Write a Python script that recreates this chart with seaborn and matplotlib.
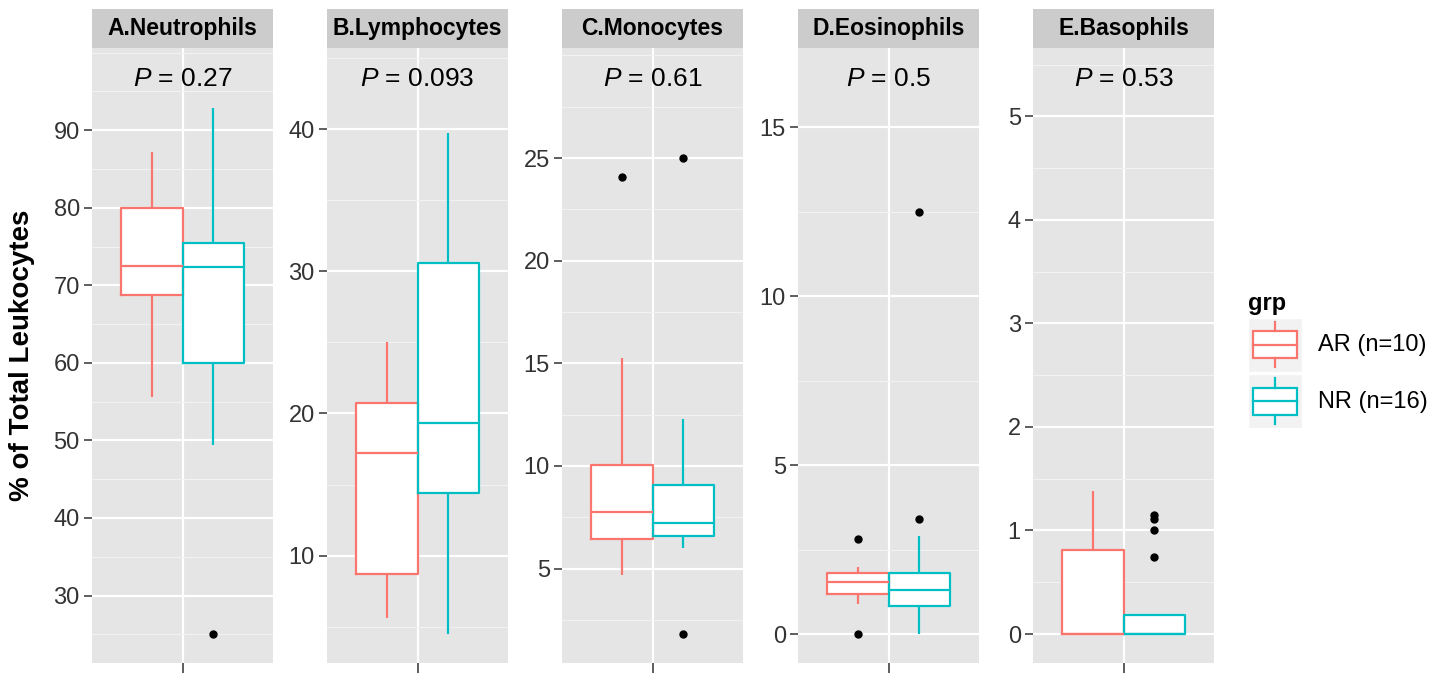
#!/usr/bin/env python3
"""
白细胞分类百分比箱线图（AR vs NR），ggplot 风格分面
"""

import numpy as np
import pandas as pd
import matplotlib
matplotlib.use("Agg")
import matplotlib.pyplot as plt
import seaborn as sns
from matplotlib.patches import Rectangle, Patch
from matplotlib.lines import Line2D
from matplotlib.legend_handler import HandlerBase

# ---- 数据 ----
cells = ["A.Neutrophils", "B.Lymphocytes", "C.Monocytes", "D.Eosinophils", "E.Basophils"]
groups = ["AR (n=10)", "NR (n=16)"]
p_values = ["0.27", "0.093", "0.61", "0.5", "0.53"]

neut_ar = [55.6, 64.0, 68.8, 68.8, 72.5, 72.5, 80.0, 80.0, 83.5, 87.2]
neut_nr = [25.1, 49.4, 55.0, 60.0, 60.0, 64.0, 69.0, 72.3, 72.3, 73.5, 74.5, 75.4, 75.4, 80.0, 86.0, 92.8]
lymph_ar = [5.6, 7.0, 8.7, 8.7, 17.2, 17.2, 20.7, 20.7, 22.5, 25.0]
lymph_nr = [4.5, 8.0, 12.0, 14.4, 14.4, 16.0, 18.0, 19.3, 19.3, 22.0, 27.0, 30.6, 30.6, 33.0, 36.0, 39.7]
mono_ar = [4.69, 5.5, 6.44, 6.44, 7.76, 7.76, 10.06, 10.06, 15.25, 24.1]
mono_nr = [1.82, 6.0, 6.3, 6.57, 6.57, 6.8, 7.0, 7.24, 7.24, 7.6, 8.4, 9.08, 9.08, 10.5, 12.28, 25.0]
eos_ar = [0.0, 0.91, 1.19, 1.19, 1.55, 1.55, 1.82, 1.82, 1.98, 2.82]
eos_nr = [0.0, 0.4, 0.7, 0.83, 0.83, 1.0, 1.2, 1.30, 1.30, 1.5, 1.7, 1.82, 1.82, 2.91, 3.41, 12.49]
baso_ar = [0.0, 0.0, 0.0, 0.0, 0.0, 0.0, 0.81, 0.81, 1.1, 1.38]
baso_nr = [0.0, 0.0, 0.0, 0.0, 0.0, 0.0, 0.0, 0.0, 0.0, 0.0, 0.0, 0.0, 0.74, 1.0, 1.11, 1.15]

values_ar = [neut_ar, lymph_ar, mono_ar, eos_ar, baso_ar]
values_nr = [neut_nr, lymph_nr, mono_nr, eos_nr, baso_nr]

# 每个分面的 y 轴范围与刻度间隔
ylims = [(21.3, 100.6), (2.45, 45.7), (0.4, 30.36), (-0.85, 17.35), (-0.28, 5.66)]
ysteps = [10, 10, 5, 5, 1]

colors = ["#F8766D", "#00BFC4"]
PANEL_BG = "#E5E5E5"
STRIP_BG = "#CCCCCC"
KEY_BG = "#F2F2F2"
TXT = "#333333"

# 长表
rows = []
for cell, ar, nr in zip(cells, values_ar, values_nr):
    rows += [(cell, groups[0], v) for v in ar]
    rows += [(cell, groups[1], v) for v in nr]
df = pd.DataFrame(rows, columns=["cell", "grp", "value"])

plt.rcParams["font.family"] = ["Liberation Sans", "DejaVu Sans"]
plt.rcParams["mathtext.fontset"] = "custom"
plt.rcParams["mathtext.it"] = "Liberation Sans:italic"
plt.rcParams["mathtext.rm"] = "Liberation Sans"


class BoxKey(HandlerBase):
    """ggplot 风格的箱线图图例键"""

    def create_artists(self, legend, orig_handle, xdescent, ydescent,
                       width, height, fontsize, trans):
        c = orig_handle.get_edgecolor()
        x0, y0 = -xdescent, -ydescent
        cx = x0 + width / 2
        bg = Rectangle((x0, y0), width, height, facecolor=KEY_BG,
                       edgecolor="white", lw=1, transform=trans)
        box = Rectangle((x0 + 0.094 * width, y0 + 0.25 * height), 0.812 * width,
                        0.5 * height, facecolor="white", edgecolor=c, lw=1.6,
                        transform=trans)
        med = Line2D([x0 + 0.094 * width, x0 + 0.906 * width],
                     [y0 + 0.5 * height] * 2, color=c, lw=1.6, transform=trans)
        w1 = Line2D([cx, cx], [y0 + 0.075 * height, y0 + 0.25 * height],
                    color=c, lw=1.6, transform=trans)
        w2 = Line2D([cx, cx], [y0 + 0.75 * height, y0 + 0.925 * height],
                    color=c, lw=1.6, transform=trans)
        return [bg, box, med, w1, w2]


W, H = 1446, 673
fig = plt.figure(figsize=(W / 100, H / 100), dpi=100)
fig.patch.set_facecolor("white")

lefts = [92, 327, 562, 798, 1033]
pw, ptop, pbot = 181, 48, 663
strip_h = 39 / (pbot - ptop)

for i, cell in enumerate(cells):
    ax = fig.add_axes([lefts[i] / W, 1 - pbot / H, pw / W, (pbot - ptop) / H])
    sub = df[df["cell"] == cell]

    # 白色填充底层
    sns.boxplot(data=sub, x="cell", y="value", hue="grp", hue_order=groups,
                palette=["white", "white"], linecolor="white", linewidth=1.6,
                width=0.82, gap=0, showcaps=False, showfliers=False,
                legend=False, ax=ax)
    # 彩色线条
    sns.boxplot(data=sub, x="cell", y="value", hue="grp", hue_order=groups,
                palette=colors, fill=False, linewidth=1.6, width=0.82, gap=0,
                showcaps=False,
                flierprops=dict(marker="o", markerfacecolor="black",
                                markeredgecolor="black", markersize=5),
                legend=False, ax=ax)

    ax.set_facecolor(PANEL_BG)
    for s in ax.spines.values():
        s.set_visible(False)
    lo, hi = ylims[i]
    ax.set_xlim(-0.6, 0.6)
    ax.set_ylim(lo, hi)

    # 主刻度只在数据范围内（类似 ggplot），次网格覆盖整个扩展范围
    step = ysteps[i]
    pad = (hi - lo) / 22
    grid_all = np.arange(np.floor(lo / step) * step, hi + step, step / 2)
    minors = [t for t in grid_all if lo <= t <= hi]
    majors = [t for t in minors
              if lo + pad <= t <= hi - pad and abs(t / step - round(t / step)) < 1e-9]
    ax.set_yticks(majors)
    ax.set_yticklabels([f"{t:g}" for t in majors])
    ax.set_yticks(minors, minor=True)

    ax.set_xticks([0])
    ax.set_xticklabels([""])
    ax.set_xlabel("")
    ax.set_ylabel("")
    ax.set_axisbelow(True)
    ax.grid(True, which="minor", axis="y", color="#F2F2F2", lw=0.8)
    ax.grid(True, which="major", axis="both", color="white", lw=1.6)
    ax.tick_params(axis="y", which="major", length=5.8, width=1.1, color=TXT,
                   labelsize=17, labelcolor=TXT, pad=3)
    ax.tick_params(axis="x", which="major", length=7, width=1.1, color=TXT)
    ax.tick_params(which="minor", length=0)

    # 分面标题条
    ax.add_patch(Rectangle((0, 1), 1, strip_h, transform=ax.transAxes,
                           facecolor=STRIP_BG, edgecolor="none", clip_on=False))
    ax.text(0.5, 1 + strip_h / 2, cell, transform=ax.transAxes, ha="center",
            va="center", fontsize=16.5, fontweight="bold", color="black")

    ax.text(0.5, 0.95, r"$\mathit{P}$ = " + p_values[i], transform=ax.transAxes,
            ha="center", va="center", fontsize=19, color="black")

fig.text(22 / W, 1 - 355 / H, "% of Total Leukocytes", rotation=90,
         ha="center", va="center", fontsize=20, fontweight="bold", color="black")

handles = [Patch(edgecolor=c, facecolor="white") for c in colors]
fig.legend(handles, groups, handler_map={Patch: BoxKey()}, title="grp",
           title_fontproperties={"weight": "bold", "size": 17},
           fontsize=17, frameon=False, loc="center left",
           bbox_to_anchor=(1248 / W, 1 - 360 / H), borderpad=0,
           borderaxespad=0, handlelength=2.3, handleheight=3.14,
           labelspacing=0.11, handletextpad=0.68, alignment="left")

fig.savefig("out.png", dpi=100, facecolor="white")
